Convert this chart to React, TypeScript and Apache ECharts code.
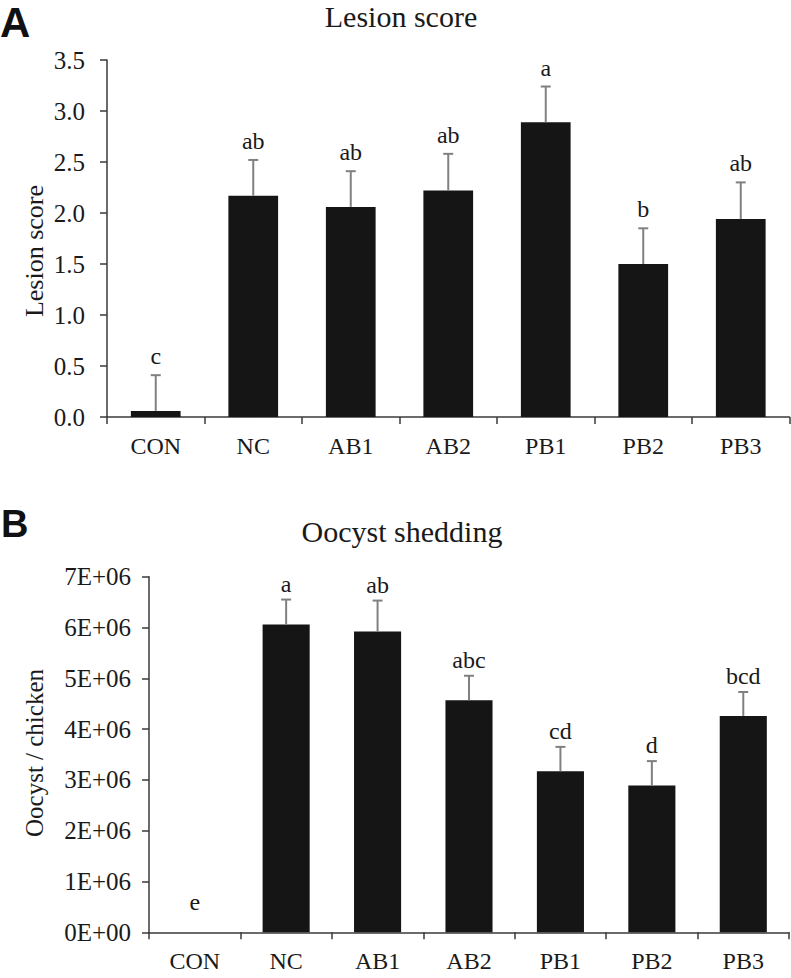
import React, { useEffect, useRef } from "react";
import * as echarts from "echarts";

const categories = ["CON", "NC", "AB1", "AB2", "PB1", "PB2", "PB3"];

const lesionMean = [0.06, 2.17, 2.06, 2.22, 2.89, 1.5, 1.94];
const lesionSE = [0.35, 0.35, 0.35, 0.36, 0.35, 0.35, 0.36];
const lesionLetters = ["c", "ab", "ab", "ab", "a", "b", "ab"];

const oocystMean = [0, 6.06e6, 5.92e6, 4.57e6, 3.17e6, 2.89e6, 4.26e6];
const oocystSE = [0, 0.49e6, 0.61e6, 0.48e6, 0.48e6, 0.48e6, 0.47e6];
const oocystLetters = ["e", "a", "ab", "abc", "cd", "d", "bcd"];

const lesionAxis = { min: 0, max: 3.5, interval: 0.5 };
const oocystAxis = { min: 0, max: 7e6, interval: 1e6 };

const SERIF = "'Liberation Serif', 'Times New Roman', serif";
const TEXT = "#1a1a1a";
const AXIS = "#3a3a3a";
const ERR = "#808080";
const BAR = "#151515";

function errSeries(idx: number, means: number[], ses: number[], letters: string[], gap: number, zeroGap: number) {
  return {
    type: "custom",
    xAxisIndex: idx,
    yAxisIndex: idx,
    z: 5,
    encode: { x: 0, y: 1 },
    data: means.map((m, i) => [i, m, ses[i]]),
    renderItem: (params: any, api: any) => {
      const i = api.value(0);
      const m = api.value(1);
      const e = api.value(2);
      const base = api.coord([i, m]);
      const top = api.coord([i, m + e]);
      const children: any[] = [];
      if (e > 0) {
        children.push({
          type: "line",
          shape: { x1: base[0], y1: base[1], x2: top[0], y2: top[1] },
          style: { stroke: ERR, lineWidth: 2 },
        });
        children.push({
          type: "line",
          shape: { x1: top[0] - 5, y1: top[1], x2: top[0] + 5, y2: top[1] },
          style: { stroke: ERR, lineWidth: 2 },
        });
      }
      children.push({
        type: "text",
        x: top[0],
        y: top[1] - (e > 0 ? gap : zeroGap),
        style: {
          text: letters[params.dataIndex],
          fontSize: 24,
          fontFamily: SERIF,
          fill: TEXT,
          align: "center",
          verticalAlign: "bottom",
        },
      });
      return { type: "group", children };
    },
  };
}

function xAxisCfg(idx: number) {
  return {
    type: "category",
    gridIndex: idx,
    data: categories,
    axisLine: { show: true, lineStyle: { color: AXIS, width: 1.5 } },
    axisTick: { show: true, length: 7, lineStyle: { color: AXIS, width: 1.5 } },
    axisLabel: { margin: 17, fontSize: 24, fontFamily: SERIF, color: TEXT },
    splitLine: { show: false },
  };
}

export default function App() {
  const ref = useRef<HTMLDivElement>(null);
  useEffect(() => {
    document.body.style.margin = "0";
    if (!ref.current) return;
    const chart = echarts.init(ref.current, null, { renderer: "svg" });
    const option: any = {
      animation: false,
      backgroundColor: "#ffffff",
      grid: [
        { left: 107, top: 60, width: 682.5, height: 357 },
        { left: 149, top: 576.7, width: 640, height: 355.6 },
      ],
      xAxis: [xAxisCfg(0), xAxisCfg(1)],
      yAxis: [
        {
          type: "value",
          gridIndex: 0,
          ...lesionAxis,
          axisLine: { show: true, lineStyle: { color: AXIS, width: 1.5 } },
          axisTick: { show: true, length: 7, lineStyle: { color: AXIS, width: 1.5 } },
          splitLine: { show: false },
          axisLabel: {
            margin: 22,
            fontSize: 25,
            fontFamily: SERIF,
            color: TEXT,
            formatter: (v: number) => v.toFixed(1),
          },
        },
        {
          type: "value",
          gridIndex: 1,
          ...oocystAxis,
          axisLine: { show: true, lineStyle: { color: AXIS, width: 1.5 } },
          axisTick: { show: true, length: 7, lineStyle: { color: AXIS, width: 1.5 } },
          splitLine: { show: false },
          axisLabel: {
            margin: 18,
            fontSize: 25,
            fontFamily: SERIF,
            color: TEXT,
            formatter: (v: number) => (v === 0 ? "0E+00" : `${Math.round(v / 1e6)}E+06`),
          },
        },
      ],
      series: [
        {
          type: "bar",
          xAxisIndex: 0,
          yAxisIndex: 0,
          data: lesionMean,
          barWidth: "51%",
          itemStyle: { color: BAR },
        },
        errSeries(0, lesionMean, lesionSE, lesionLetters, 7, 7),
        {
          type: "bar",
          xAxisIndex: 1,
          yAxisIndex: 1,
          data: oocystMean,
          barWidth: "51.5%",
          itemStyle: { color: BAR },
        },
        errSeries(1, oocystMean, oocystSE, oocystLetters, 4, 18),
      ],
      graphic: [
        {
          type: "text",
          x: 0,
          y: 22,
          style: { text: "A", fontSize: 42, fontWeight: "bold", fontFamily: "'Liberation Sans', Arial, sans-serif", fill: "#111", align: "left", verticalAlign: "middle" },
        },
        {
          type: "text",
          x: 1,
          y: 524,
          style: { text: "B", fontSize: 38, fontWeight: "bold", fontFamily: "'Liberation Sans', Arial, sans-serif", fill: "#111", align: "left", verticalAlign: "middle" },
        },
        {
          type: "text",
          x: 401,
          y: 16,
          style: { text: "Lesion score", fontSize: 30, fontFamily: SERIF, fill: TEXT, align: "center", verticalAlign: "middle" },
        },
        {
          type: "text",
          x: 402,
          y: 531,
          style: { text: "Oocyst shedding", fontSize: 30, fontFamily: SERIF, fill: TEXT, align: "center", verticalAlign: "middle" },
        },
        {
          type: "text",
          x: 34,
          y: 251,
          rotation: Math.PI / 2,
          style: { text: "Lesion score", fontSize: 26, fontFamily: SERIF, fill: TEXT, align: "center", verticalAlign: "middle" },
        },
        {
          type: "text",
          x: 34,
          y: 753,
          rotation: Math.PI / 2,
          style: { text: "Oocyst / chicken", fontSize: 25, fontFamily: SERIF, fill: TEXT, align: "center", verticalAlign: "middle" },
        },
      ],
    };
    chart.setOption(option);
    return () => chart.dispose();
  }, []);
  return <div ref={ref} style={{ width: 791, height: 978 }} />;
}
